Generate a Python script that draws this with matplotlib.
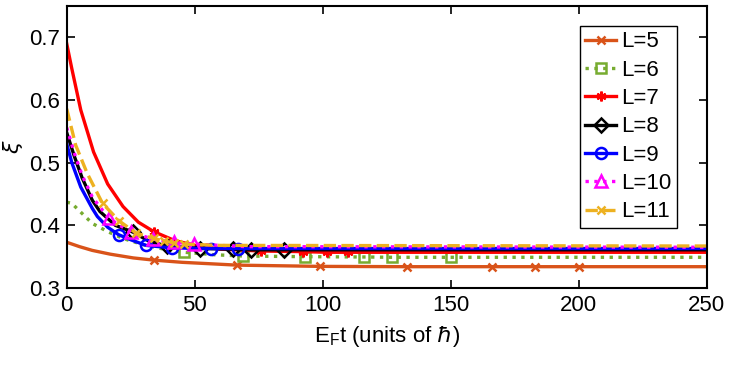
import matplotlib
matplotlib.use('Agg')
import matplotlib.pyplot as plt

plt.rcParams['font.family'] = ['Liberation Sans', 'DejaVu Sans']
plt.rcParams['mathtext.fontset'] = 'dejavusans'

# curves: x, y and the x positions that carry markers
L5_x = [0, 5, 10, 17, 26, 34, 45, 66.5, 99, 133, 166, 183, 200, 250]
L5_y = [0.373, 0.366, 0.360, 0.354, 0.348, 0.3445, 0.341, 0.3365, 0.3345, 0.334, 0.334, 0.334, 0.334, 0.334]
L5_m = [34, 66.5, 99, 133, 166, 183, 200]

L6_x = [0, 2, 5, 10, 16, 22, 30, 38, 46, 58, 69, 93, 116, 127, 150, 200, 250]
L6_y = [0.437, 0.435, 0.423, 0.403, 0.390, 0.379, 0.369, 0.362, 0.357, 0.353, 0.351, 0.350, 0.3495, 0.349, 0.349, 0.349, 0.349]
L6_m = [46, 69, 93, 116, 127, 150]

L7_x = [0, 2, 5.5, 10.5, 16, 22, 28, 34, 42, 50, 60, 76, 92.5, 101.5, 110, 150, 200, 250]
L7_y = [0.690, 0.650, 0.584, 0.517, 0.466, 0.430, 0.405, 0.390, 0.376, 0.368, 0.362, 0.359, 0.358, 0.357, 0.357, 0.357, 0.357, 0.357]
L7_m = [34, 76, 92.5, 101.5, 110]

L8_x = [0, 3, 6, 10, 13, 19, 26, 32, 39, 52, 65, 72, 85, 150, 250]
L8_y = [0.548, 0.510, 0.476, 0.440, 0.422, 0.400, 0.389, 0.375, 0.367, 0.363, 0.362, 0.361, 0.361, 0.361, 0.361]
L8_m = [26, 39, 52, 65, 72, 85]

L9_x = [0, 2, 5.5, 10, 12, 16, 20.3, 25, 31, 41, 56.5, 67, 100, 250]
L9_y = [0.530, 0.500, 0.461, 0.427, 0.414, 0.397, 0.385, 0.377, 0.368, 0.364, 0.363, 0.363, 0.363, 0.363]
L9_m = [20.3, 31, 41, 56.5, 67]

L10_x = [0, 3, 6, 10, 16.5, 25, 33.7, 41.8, 49.8, 70, 250]
L10_y = [0.556, 0.515, 0.480, 0.445, 0.411, 0.389, 0.378, 0.373, 0.370, 0.366, 0.365]
L10_m = [16.5, 25, 33.7, 41.8, 49.8]

L11_x = [0, 3.5, 8, 14, 20.5, 27, 34, 38, 42, 46, 60, 250]
L11_y = [0.586, 0.528, 0.483, 0.435, 0.407, 0.388, 0.379, 0.375, 0.372, 0.370, 0.368, 0.367]
L11_m = [14, 20.5, 27, 34, 38, 42, 46]

series = [
    ("L=5", L5_x, L5_y, L5_m, "#D95319", "-", "x", "#D95319", 6),
    ("L=6", L6_x, L6_y, L6_m, "#77AC30", ":", "s", "none", 7),
    ("L=7", L7_x, L7_y, L7_m, "#FF0000", "-", (6, 2, 0), "#FF0000", 7),
    ("L=8", L8_x, L8_y, L8_m, "#000000", "-", "D", "none", 7),
    ("L=9", L9_x, L9_y, L9_m, "#0000FF", "-", "o", "none", 8),
    ("L=10", L10_x, L10_y, L10_m, "#FF00FF", ":", "^", "none", 8),
    ("L=11", L11_x, L11_y, L11_m, "#EDB120", "--", "x", "#EDB120", 6),
]

fig = plt.figure(figsize=(7.47, 3.65), dpi=100)
ax = fig.add_axes([66.7 / 747, 1 - 288 / 365, 640 / 747, 282 / 365])

for label, xs, ys, marks, color, ls, mk, fc, ms in series:
    idx = [xs.index(m) for m in marks]
    ax.plot(xs, ys, color=color, linestyle=ls, linewidth=2.4, marker=mk,
            markevery=idx, markersize=ms, markeredgewidth=1.8,
            markerfacecolor=fc, markeredgecolor=color, label=label)

ax.set_xlim(0, 250)
ax.set_ylim(0.3, 0.75)
ax.set_xticks([0, 50, 100, 150, 200, 250])
ax.set_yticks([0.3, 0.4, 0.5, 0.6, 0.7])
ax.set_yticklabels(["0.3", "0.4", "0.5", "0.6", "0.7"])
ax.tick_params(direction='in', top=True, right=True, labelsize=16,
               length=6, width=1.2, pad=5)
for s in ax.spines.values():
    s.set_linewidth(1.5)

ax.set_xlabel(r'$\mathregular{E_F}$t (units of $\hbar$)', fontsize=16, labelpad=6)
ax.set_ylabel(r'$\xi$', fontsize=16, labelpad=3)

leg = ax.legend(loc='upper right', bbox_to_anchor=(0.953, 0.93), fontsize=16,
                handlelength=1.4, handletextpad=0.2, labelspacing=0.33,
                borderpad=0.25, borderaxespad=0, fancybox=False, framealpha=1)
leg.get_frame().set_edgecolor('black')
leg.get_frame().set_linewidth(1.0)

fig.savefig("out.png", dpi=100)
